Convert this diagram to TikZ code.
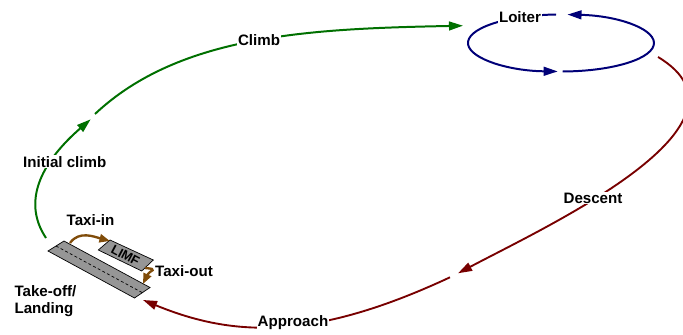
\documentclass[tikz,border=0pt]{standalone}
\usepackage{fontspec}
\setmainfont{Liberation Sans}
\usetikzlibrary{arrows.meta}
\definecolor{climbgreen}{RGB}{0,112,0}
\definecolor{loiterblue}{RGB}{0,0,120}
\definecolor{descentred}{RGB}{120,0,0}
\definecolor{taxibrown}{RGB}{128,76,10}
\definecolor{rwygray}{RGB}{150,150,150}

\begin{document}
\begin{tikzpicture}[x=0.03cm,y=0.03cm,
  font=\fontsize{12.9}{14.5}\selectfont\bfseries,
  >={Triangle[length=12pt,width=7.5pt]},
  phase/.style={fill=white,inner sep=1pt},
  climbline/.style={draw=climbgreen,line width=1.7pt},
  loiterline/.style={draw=loiterblue,line width=1.7pt},
  descentline/.style={draw=descentred,line width=1.6pt},
  taxiline/.style={draw=taxibrown,line width=2pt,-{Triangle[length=9pt,width=7pt]}},
  strip/.style={fill=rwygray,draw=black,line width=0.6pt}]
\useasboundingbox (0,0) rectangle (683,334);
\clip (0,0) rectangle (683,334);

\filldraw[strip] (48,83) -- (64,93) -- (150,46.5) -- (134.5,36) -- cycle;
\draw[dash pattern=on 2.5pt off 2pt,line width=0.6pt] (56,88) -- (142,41.5);
\filldraw[strip] (98.3,84) -- (110,94) -- (153.3,74) -- (141.7,63) -- cycle;
\node[rotate=-28,font=\fontsize{11}{12}\selectfont\bfseries] (limf) at (125.5,78.5) {LIMF};

\coordinate (lift) at (46,96);
\coordinate (icEnd) at (90.7,214.7);
\coordinate (clStart) at (95,220);
\coordinate (clEnd) at (463,308.3);
\coordinate (loopA) at (562.6,262.5);
\coordinate (loopB) at (556.1,319.5);
\coordinate (dsStart) at (658,277);
\coordinate (dsEnd) at (458,60.7);
\coordinate (apStart) at (450,56.7);
\coordinate (apEnd) at (143,34);
\coordinate (tiStart) at (70,91);
\coordinate (tiEnd) at (110,93);
\coordinate (toStart) at (145,66);
\coordinate (toEnd) at (143,50);

\draw[climbline,->] (lift) .. controls (20,135) and (45,175) .. (icEnd);
\draw[climbline,->] (clStart) .. controls (180,300) and (313,305.3) .. (clEnd);
\draw[loiterline,->] (loopA) arc[start angle=-89,end angle=86,x radius=93,y radius=28.5];
\draw[loiterline,->] (loopB) arc[start angle=93,end angle=268,x radius=93,y radius=28.5];
\draw[descentline,->] (dsStart) .. controls (769.4,210) and (546.3,107.6) .. (dsEnd);
\draw[descentline,->] (apStart) .. controls (314,-6.7) and (233.8,-3.4) .. (apEnd);
\draw[taxiline] (tiStart) to[out=55,in=165] (tiEnd);
\draw[taxiline] (toStart) to[out=-5,in=65,looseness=2.4] (toEnd);

\node[phase] (initclimb) at (64.7,172.3) {Initial climb};
\node[phase] (climb) at (259,294) {Climb};
\node[phase] (loiter) at (520,317) {Loiter};
\node[phase] (descent) at (593,136) {Descent};
\node[phase] (approach) at (293,11) {Approach};
\node (taxiin) at (90.5,114) {Taxi-in};
\node (taxiout) at (184,63) {Taxi-out};
\node[align=left] (tol) at (45.5,32.5) {Take-off/\\Landing};
\end{tikzpicture}
\end{document}
